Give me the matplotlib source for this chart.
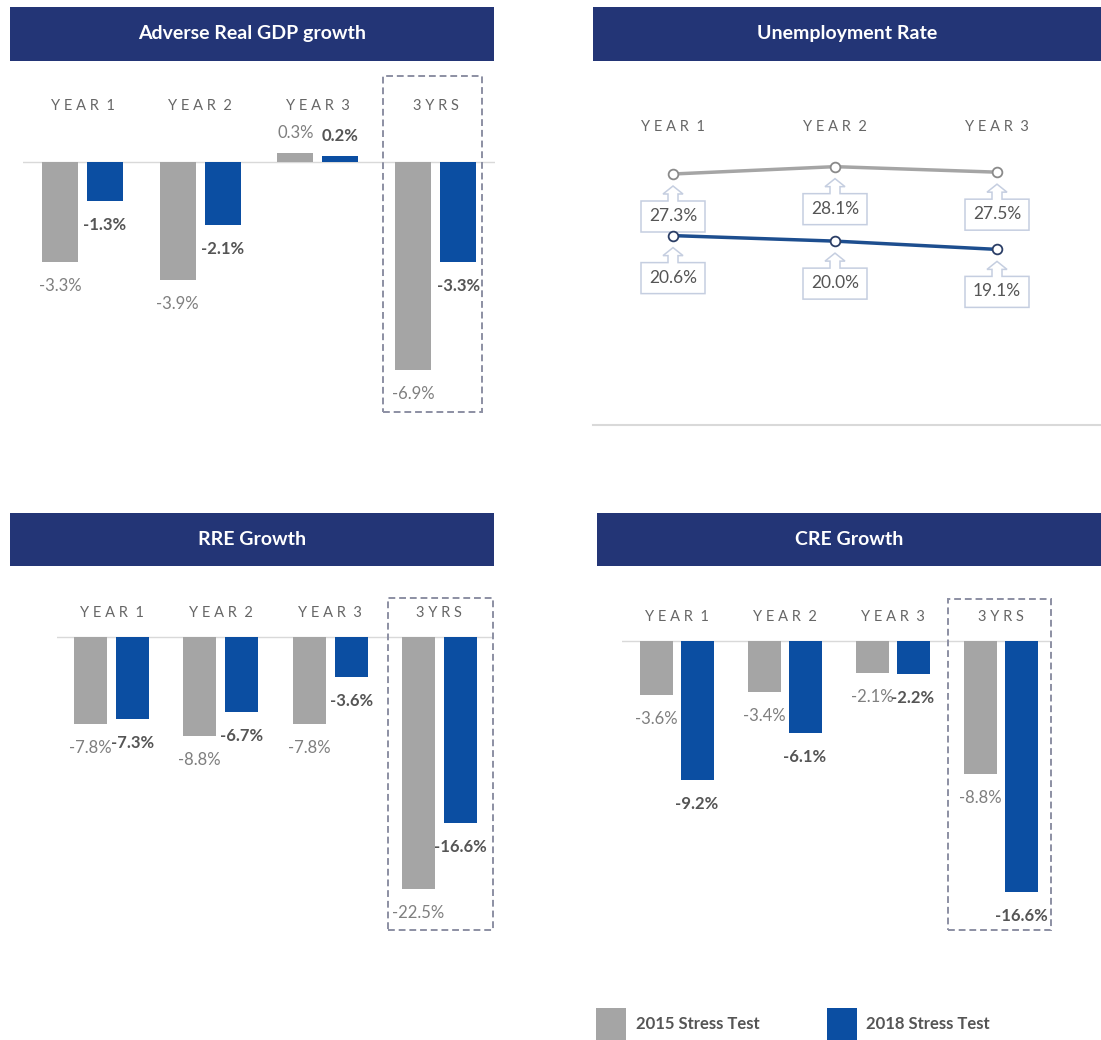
import matplotlib
matplotlib.use("Agg")
import matplotlib.pyplot as plt
import numpy as np
from matplotlib.patches import Rectangle, Polygon
from matplotlib import transforms

# ---------------------------------------------------------------- data
periods = ["YEAR 1", "YEAR 2", "YEAR 3", "3YRS"]
series_names = ["2015 Stress Test", "2018 Stress Test"]

gdp_2015 = [-3.3, -3.9, 0.3, -6.9]
gdp_2018 = [-1.3, -2.1, 0.2, -3.3]

rre_2015 = [-7.8, -8.8, -7.8, -22.5]
rre_2018 = [-7.3, -6.7, -3.6, -16.6]

cre_2015 = [-3.6, -3.4, -2.1, -8.8]
cre_2018 = [-9.2, -6.1, -2.2, -16.6]

unemp_years = ["YEAR 1", "YEAR 2", "YEAR 3"]
unemp_2015 = [27.3, 28.1, 27.5]
unemp_2018 = [20.6, 20.0, 19.1]

titles = ["Adverse Real GDP growth", "Unemployment Rate", "RRE Growth", "CRE Growth"]

# ---------------------------------------------------------------- style
W, H = 1101, 1040
plt.rcParams['font.family'] = ['Lato', 'DejaVu Sans']

GRAY = '#A5A5A5'
BLUE = '#0B4EA2'
LINE_BLUE = '#1D4E8F'
NAVY = '#233576'
TXT_LIGHT = '#7F7F7F'
TXT_DARK = '#555555'
CAT_COLOR = '#666666'
BASE = '#D9D9D9'
DASH = '#8C8FA3'

fig = plt.figure(figsize=(W / 100, H / 100), dpi=100)
fig.patch.set_facecolor('white')


def px_axes(x0, y0, x1, y1):
    """Axes placed by pixel box (origin top-left)."""
    ax = fig.add_axes([x0 / W, 1 - y1 / H, (x1 - x0) / W, (y1 - y0) / H])
    ax.axis('off')
    return ax


def spaced(label):
    parts = label.split(" ")
    return "  ".join(" ".join(p) for p in parts)


def fmt(v):
    return f"{v:.1f}%"


def banner(x0, y0, x1, y1, text):
    fig.patches.append(Rectangle((x0 / W, 1 - y1 / H), (x1 - x0) / W, (y1 - y0) / H,
                                 transform=fig.transFigure, facecolor=NAVY,
                                 edgecolor='none'))
    fig.text((x0 + x1) / 2 / W, 1 - (y0 + y1) / 2 / H, text, ha='center', va='center',
             color='white', fontsize=14, fontweight='bold')


def bar_panel(box, c0, s, yb, k, bw, off, v15, v18, cat_y, dash_px):
    x0, y0, x1, y1 = box
    ax = px_axes(*box)
    ax.set_xlim((x0 - c0) / s, (x1 - c0) / s)
    ax.set_ylim(-(y1 - yb) / k, (yb - y0) / k)
    ax.axhline(0, color=BASE, lw=1.0, zorder=1)

    x = np.arange(len(periods))
    ax.bar(x - off / s, v15, width=bw / s, color=GRAY, zorder=2)
    ax.bar(x + off / s, v18, width=bw / s, color=BLUE, zorder=2)

    for xi, v in zip(x - off / s, v15):
        dy = 20 if v > 0 else -24
        ax.annotate(fmt(v), xy=(xi, v), xytext=(0, dy), textcoords='offset pixels',
                    ha='center', va='center', fontsize=12, color=TXT_LIGHT)
    for xi, v in zip(x + off / s, v18):
        dy = 20 if v > 0 else -24
        ax.annotate(fmt(v), xy=(xi, v), xytext=(0, dy), textcoords='offset pixels',
                    ha='center', va='center', fontsize=12, color=TXT_DARK,
                    fontweight='bold')

    for xi, name in zip(x, periods):
        ax.text(xi, (yb - cat_y) / k, spaced(name), ha='center', va='center',
                fontsize=10.5, color=CAT_COLOR)

    dx0, dy0, dx1, dy1 = dash_px
    ax.add_patch(Rectangle(((dx0 - c0) / s, (yb - dy1) / k), (dx1 - dx0) / s,
                           (dy1 - dy0) / k, fill=False, edgecolor=DASH, lw=1.4,
                           linestyle=(0, (3.5, 2)), clip_on=False, zorder=3))
    return ax


# ---------------------------------------------------------------- banners
banner(10, 7, 494, 61, titles[0])
banner(593, 7, 1101, 61, titles[1])
banner(10, 513, 494, 566, titles[2])
banner(597, 513, 1101, 566, titles[3])

# ---------------------------------------------------------------- bar panels
bar_panel((23, 70, 495, 420), c0=82.5, s=117.7, yb=162, k=30.2, bw=36, off=22.5,
          v15=gdp_2015, v18=gdp_2018, cat_y=106, dash_px=(383, 76, 482, 412))
bar_panel((57, 580, 493, 940), c0=111.5, s=109.3, yb=637, k=11.2, bw=33, off=21,
          v15=rre_2015, v18=rre_2018, cat_y=613, dash_px=(388, 598, 493, 930))
bar_panel((622, 580, 1050, 940), c0=676.5, s=108, yb=641, k=15.1, bw=33, off=20.5,
          v15=cre_2015, v18=cre_2018, cat_y=617, dash_px=(948, 599, 1051, 930))

# ---------------------------------------------------------------- unemployment lines
ux0, uy0, ux1, uy1 = 593, 70, 1101, 425
uc0, us, uk = 673, 162, 9.194
ax2 = px_axes(ux0, uy0, ux1, uy1)
ax2.set_xlim((ux0 - uc0) / us, (ux1 - uc0) / us)
ax2.set_ylim(0, (uy1 - uy0) / uk)
ax2.axhline(0, color=BASE, lw=1.5, clip_on=False)

ux = np.arange(len(unemp_years))
ax2.plot(ux, unemp_2015, color=GRAY, lw=2.5, marker='o', ms=7, mfc='white',
         mec='#8A8A8A', mew=1.3, zorder=6)
ax2.plot(ux, unemp_2018, color=LINE_BLUE, lw=2.5, marker='o', ms=7, mfc='white',
         mec='#2B3E66', mew=1.3, zorder=6)

for xi, name in zip(ux, unemp_years):
    ax2.text(xi, (uy1 - 127) / uk, spaced(name), ha='center', va='center',
             fontsize=10.5, color=CAT_COLOR)

# up-arrow callout outline, in pixels relative to the data point (y up)
callout = [(0, -12), (10, -20), (5, -20), (5, -27), (32, -27), (32, -58),
           (-32, -58), (-32, -27), (-5, -27), (-5, -20), (-10, -20)]
for vals in (unemp_2015, unemp_2018):
    for xi, v in zip(ux, vals):
        tr = transforms.Affine2D() + transforms.ScaledTranslation(xi, v, ax2.transData)
        ax2.add_patch(Polygon(callout, closed=True, transform=tr, facecolor='white',
                              edgecolor='#C5CEE0', lw=1.1, zorder=4, clip_on=False))
        ax2.annotate(fmt(v), xy=(xi, v), xytext=(0, -42), textcoords='offset pixels',
                     ha='center', va='center', fontsize=12.5, color=TXT_DARK, zorder=5)

# ---------------------------------------------------------------- legend
for (sx, tx), color, name in zip([(596, 636), (827, 866)], [GRAY, BLUE], series_names):
    fig.patches.append(Rectangle((sx / W, 0), 30 / W, 32 / H, transform=fig.transFigure,
                                 facecolor=color, edgecolor='none'))
    fig.text(tx / W, 1 - 1024 / H, name, ha='left', va='center', fontsize=12,
             fontweight='bold', color=TXT_DARK)

fig.savefig("out.png", dpi=100, facecolor='white')
